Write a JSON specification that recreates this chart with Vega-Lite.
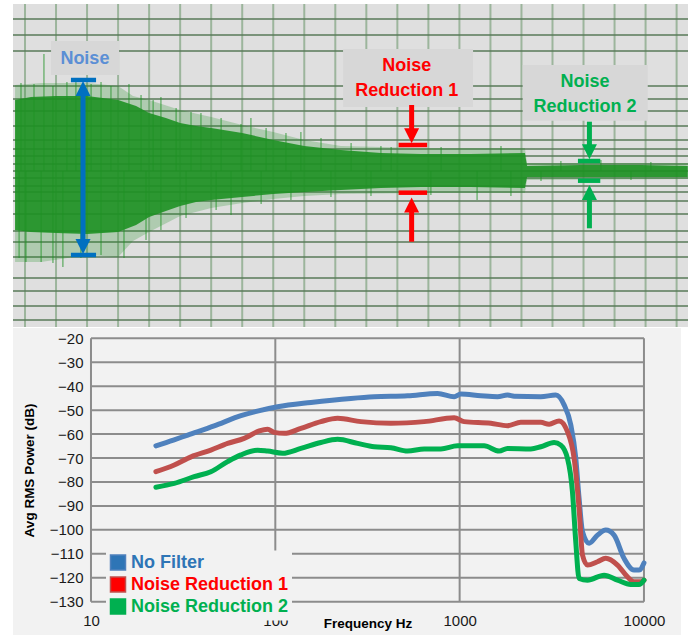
{
  "$schema": "https://vega.github.io/schema/vega-lite/v6.json",
  "background": "white",
  "padding": {"left": 12, "top": 3, "right": 0, "bottom": 0},
  "spacing": 0,
  "config": {
    "view": {"stroke": null},
    "font": "Liberation Sans",
    "axis": {"labelFont": "Liberation Sans", "titleFont": "Liberation Sans", "labelOverlap": false},
    "legend": {"labelFont": "Liberation Sans"}
  },
  "datasets": {
    "vgrid": [{"t":0},{"t":1},{"t":2},{"t":3},{"t":4},{"t":5},{"t":6},{"t":7},{"t":8},{"t":9},{"t":10},{"t":11},{"t":12},{"t":13},{"t":14},{"t":15},{"t":16},{"t":17},{"t":18},{"t":19},{"t":20},{"t":21}],
    "hgrid": [{"a":15.2},{"a":13.6},{"a":12.0},{"a":8.5},{"a":7.2},{"a":6.0},{"a":4.5},{"a":3.1},{"a":2.2},{"a":1.5},{"a":0.7},{"a":0},{"a":-0.7},{"a":-1.5},{"a":-2.1},{"a":-3.0},{"a":-4.3},{"a":-6.0},{"a":-7.1},{"a":-8.6},{"a":-10.7},{"a":-12.0},{"a":-13.5},{"a":-14.9}],
    "noiseOuter": [
      {"t":-0.32,"hi":8.6,"lo":-9.1},{"t":0.52,"hi":8.8,"lo":-9.1},{"t":2.0,"hi":8.8,"lo":-8.4},{"t":3.0,"hi":8.5,"lo":-8.6},
      {"t":3.48,"hi":7.5,"lo":-7.0},{"t":4.0,"hi":7.1,"lo":-6.1},{"t":5.0,"hi":6.1,"lo":-4.5},{"t":6.0,"hi":5.4,"lo":-3.7},
      {"t":7.0,"hi":4.6,"lo":-3.2},{"t":8.0,"hi":3.9,"lo":-2.8},{"t":9.0,"hi":3.1,"lo":-2.5},{"t":10.18,"hi":2.5,"lo":-2.3},
      {"t":12.76,"hi":2.3,"lo":-2.2},{"t":16.11,"hi":2.3,"lo":-2.2},{"t":16.18,"hi":0.8,"lo":-0.9},{"t":21.36,"hi":0.8,"lo":-0.8}
    ],
    "noiseCore": [
      {"t":-0.32,"hi":7.1,"lo":-5.9},{"t":0.19,"hi":7.4,"lo":-6.1},{"t":1.0,"hi":7.5,"lo":-6.2},{"t":2.0,"hi":7.5,"lo":-6.3},
      {"t":3.0,"hi":7.1,"lo":-6.1},{"t":3.58,"hi":6.5,"lo":-5.4},{"t":4.0,"hi":5.8,"lo":-4.6},{"t":4.54,"hi":5.3,"lo":-4.0},
      {"t":5.0,"hi":4.8,"lo":-3.5},{"t":5.51,"hi":4.5,"lo":-3.1},{"t":6.0,"hi":4.3,"lo":-2.9},{"t":7.0,"hi":3.8,"lo":-2.6},
      {"t":8.0,"hi":3.1,"lo":-2.3},{"t":9.0,"hi":2.5,"lo":-2.1},{"t":10.18,"hi":2.1,"lo":-1.9},{"t":11.47,"hi":1.8,"lo":-1.7},
      {"t":12.76,"hi":1.7,"lo":-1.6},{"t":14.37,"hi":1.7,"lo":-1.6},{"t":16.11,"hi":1.8,"lo":-1.7},{"t":16.18,"hi":0.5,"lo":-0.6},
      {"t":17.92,"hi":0.6,"lo":-0.6},{"t":19.85,"hi":0.6,"lo":-0.6},{"t":21.36,"hi":0.5,"lo":-0.6}
    ],
    "spikes": [
      {"t":0.03,"base":0,"tip":-9.1},{"t":0.61,"base":0,"tip":11.7},{"t":0.9,"base":0,"tip":-9.2},{"t":1.22,"base":0,"tip":-9.6},{"t":1.64,"base":0,"tip":9.1},
      {"t":2.45,"base":0,"tip":8.9},{"t":3.19,"base":0,"tip":-8.7},{"t":3.35,"base":0,"tip":8.7},{"t":4.38,"base":0,"tip":7.4},{"t":5.67,"base":0,"tip":5.8},
      {"t":6.64,"base":0,"tip":-4.4},{"t":7.28,"base":0,"tip":5.3},{"t":8.89,"base":0,"tip":3.9},{"t":11.8,"base":0,"tip":2.4},{"t":14.57,"base":0,"tip":-2.9},
      {"t":-0.13,"base":0,"tip":8.8},{"t":0.29,"base":0,"tip":8.7},{"t":0.9,"base":0,"tip":8.5},{"t":1.35,"base":0,"tip":8.9},{"t":2.13,"base":0,"tip":8.7},
      {"t":2.77,"base":0,"tip":8.5},{"t":3.74,"base":0,"tip":7.6},{"t":4.13,"base":0,"tip":7.1},{"t":4.87,"base":0,"tip":6.3},{"t":5.35,"base":0,"tip":5.9},
      {"t":6.32,"base":0,"tip":5.3},{"t":6.96,"base":0,"tip":4.7},{"t":7.77,"base":0,"tip":4.3},{"t":8.41,"base":0,"tip":3.8},{"t":9.54,"base":0,"tip":3.3},
      {"t":10.51,"base":0,"tip":2.8},{"t":11.47,"base":0,"tip":2.5},{"t":13.41,"base":0,"tip":2.4},{"t":15.34,"base":0,"tip":2.5},
      {"t":-0.19,"base":0,"tip":-8.7},{"t":0.52,"base":0,"tip":-9.1},{"t":1.8,"base":0,"tip":-8.7},{"t":2.45,"base":0,"tip":-8.4},{"t":3.9,"base":0,"tip":-6.9},
      {"t":4.38,"base":0,"tip":-5.9},{"t":5.19,"base":0,"tip":-4.7},{"t":6.16,"base":0,"tip":-3.9},{"t":7.61,"base":0,"tip":-3.3},{"t":8.57,"base":0,"tip":-2.9},
      {"t":9.86,"base":0,"tip":-2.6},{"t":11.15,"base":0,"tip":-2.5},{"t":13.08,"base":0,"tip":-2.4},{"t":15.66,"base":0,"tip":-2.5},
      {"t":17.27,"base":0,"tip":1.0},{"t":18.56,"base":0,"tip":1.1},{"t":20.17,"base":0,"tip":0.9},{"t":16.63,"base":0,"tip":-1.0},{"t":19.53,"base":0,"tip":-0.9}
    ],
    "boxes": [
      {"t":0.84,"t2":3.03,"a":13.0,"a2":9.6},
      {"t":10.25,"t2":14.44,"a":12.2,"a2":6.4},
      {"t":16.04,"t2":20.07,"a":10.6,"a2":5.03}
    ],
    "labels": [
      {"grp":"Noise","t":1.93,"a":11.2,"text":"Noise"},
      {"grp":"NR1","t":12.3,"a":10.53,"text":"Noise"},
      {"grp":"NR1","t":12.3,"a":8.0,"text":"Reduction 1"},
      {"grp":"NR2","t":18.05,"a":8.93,"text":"Noise"},
      {"grp":"NR2","t":18.05,"a":6.4,"text":"Reduction 2"}
    ],
    "shafts": [
      {"grp":"Noise","t":1.87,"a":8.25,"a2":-7.55},
      {"grp":"NR1","t":12.46,"a":6.6,"a2":3.53},
      {"grp":"NR1","t":12.46,"a":-7.07,"a2":-3.4},
      {"grp":"NR2","t":18.19,"a":4.93,"a2":1.93},
      {"grp":"NR2","t":18.19,"a":-5.73,"a2":-2.15}
    ],
    "bars": [
      {"grp":"Noise","t":1.48,"t2":2.29,"a":9.1},
      {"grp":"Noise","t":1.48,"t2":2.29,"a":-8.4},
      {"grp":"NR1","t":12.04,"t2":12.96,"a":2.6},
      {"grp":"NR1","t":12.04,"t2":12.96,"a":-2.17},
      {"grp":"NR2","t":17.82,"t2":18.54,"a":1.0},
      {"grp":"NR2","t":17.82,"t2":18.54,"a":-0.97}
    ],
    "heads": [
      {"grp":"Noise","t":1.87,"a":8.25,"dir":"up"},
      {"grp":"Noise","t":1.87,"a":-7.55,"dir":"down"},
      {"grp":"NR1","t":12.46,"a":3.53,"dir":"down"},
      {"grp":"NR1","t":12.46,"a":-3.4,"dir":"up"},
      {"grp":"NR2","t":18.19,"a":1.93,"dir":"down"},
      {"grp":"NR2","t":18.19,"a":-2.15,"dir":"up"}
    ],
    "spectrum": [
      {"s":"No Filter","f":22.5,"db":-64.9},{"s":"No Filter","f":28,"db":-62.5},{"s":"No Filter","f":33.5,"db":-60.4},{"s":"No Filter","f":46.6,"db":-56.6},
      {"s":"No Filter","f":65.1,"db":-52.3},{"s":"No Filter","f":80,"db":-50.4},{"s":"No Filter","f":102.9,"db":-48.6},{"s":"No Filter","f":156,"db":-46.8},
      {"s":"No Filter","f":257,"db":-45.1},{"s":"No Filter","f":344,"db":-44.4},{"s":"No Filter","f":522,"db":-44.0},{"s":"No Filter","f":759,"db":-43.0},
      {"s":"No Filter","f":934,"db":-44.4},{"s":"No Filter","f":1015,"db":-43.3},{"s":"No Filter","f":1303,"db":-44.0},{"s":"No Filter","f":1606,"db":-44.4},
      {"s":"No Filter","f":1818,"db":-43.7},{"s":"No Filter","f":1975,"db":-44.2},{"s":"No Filter","f":2754,"db":-44.4},{"s":"No Filter","f":3324,"db":-43.7},
      {"s":"No Filter","f":3688,"db":-47.8},{"s":"No Filter","f":4010,"db":-56.2},{"s":"No Filter","f":4266,"db":-70.1},{"s":"No Filter","f":4446,"db":-86.8},
      {"s":"No Filter","f":4640,"db":-100.8},{"s":"No Filter","f":5037,"db":-105.6},{"s":"No Filter","f":5595,"db":-102.2},{"s":"No Filter","f":6205,"db":-100.1},
      {"s":"No Filter","f":6884,"db":-102.2},{"s":"No Filter","f":7800,"db":-111.9},{"s":"No Filter","f":8836,"db":-116.8},{"s":"No Filter","f":9405,"db":-116.8},
      {"s":"No Filter","f":10000,"db":-113.8},
      {"s":"Noise Reduction 1","f":22.5,"db":-75.7},{"s":"Noise Reduction 1","f":28.3,"db":-72.9},{"s":"Noise Reduction 1","f":34.9,"db":-69.5},{"s":"Noise Reduction 1","f":44.7,"db":-66.7},
      {"s":"Noise Reduction 1","f":55.1,"db":-63.9},{"s":"Noise Reduction 1","f":67.8,"db":-61.8},{"s":"Noise Reduction 1","f":81.8,"db":-58.7},{"s":"Noise Reduction 1","f":90.8,"db":-58.0},
      {"s":"Noise Reduction 1","f":98.6,"db":-59.3},{"s":"Noise Reduction 1","f":111.8,"db":-59.7},{"s":"Noise Reduction 1","f":137.6,"db":-57.6},{"s":"Noise Reduction 1","f":176.7,"db":-54.8},
      {"s":"Noise Reduction 1","f":217.7,"db":-53.4},{"s":"Noise Reduction 1","f":291.2,"db":-54.8},{"s":"Noise Reduction 1","f":423.7,"db":-55.5},{"s":"Noise Reduction 1","f":642,"db":-54.8},
      {"s":"Noise Reduction 1","f":934,"db":-53.2},{"s":"Noise Reduction 1","f":1058,"db":-54.8},{"s":"Noise Reduction 1","f":1476,"db":-55.5},{"s":"Noise Reduction 1","f":1818,"db":-56.5},
      {"s":"Noise Reduction 1","f":2147,"db":-55.1},{"s":"Noise Reduction 1","f":2756,"db":-55.1},{"s":"Noise Reduction 1","f":3057,"db":-55.9},{"s":"Noise Reduction 1","f":3465,"db":-54.5},
      {"s":"Noise Reduction 1","f":3846,"db":-59.0},{"s":"Noise Reduction 1","f":4178,"db":-70.1},{"s":"Noise Reduction 1","f":4446,"db":-91.0},{"s":"Noise Reduction 1","f":4640,"db":-110.5},
      {"s":"Noise Reduction 1","f":4938,"db":-114.7},{"s":"Noise Reduction 1","f":5595,"db":-113.3},{"s":"Noise Reduction 1","f":6205,"db":-111.9},{"s":"Noise Reduction 1","f":7184,"db":-114.7},
      {"s":"Noise Reduction 1","f":8138,"db":-119.6},{"s":"Noise Reduction 1","f":8836,"db":-121.7},{"s":"Noise Reduction 1","f":9608,"db":-121.7},{"s":"Noise Reduction 1","f":10000,"db":-121.0},
      {"s":"Noise Reduction 2","f":22.5,"db":-82.2},{"s":"Noise Reduction 2","f":28.3,"db":-80.6},{"s":"Noise Reduction 2","f":36.3,"db":-77.8},{"s":"Noise Reduction 2","f":44.7,"db":-75.7},
      {"s":"Noise Reduction 2","f":55.1,"db":-71.5},{"s":"Noise Reduction 2","f":65.1,"db":-68.7},{"s":"Noise Reduction 2","f":80.2,"db":-66.7},{"s":"Noise Reduction 2","f":90.8,"db":-67.1},
      {"s":"Noise Reduction 2","f":109.5,"db":-68.0},{"s":"Noise Reduction 2","f":137.6,"db":-66.0},{"s":"Noise Reduction 2","f":176.7,"db":-63.5},{"s":"Noise Reduction 2","f":217.7,"db":-62.2},
      {"s":"Noise Reduction 2","f":279.5,"db":-63.9},{"s":"Noise Reduction 2","f":343.9,"db":-65.3},{"s":"Noise Reduction 2","f":423.7,"db":-65.7},{"s":"Noise Reduction 2","f":521.8,"db":-67.1},
      {"s":"Noise Reduction 2","f":642,"db":-66.2},{"s":"Noise Reduction 2","f":790.7,"db":-66.2},{"s":"Noise Reduction 2","f":974,"db":-64.9},{"s":"Noise Reduction 2","f":1358,"db":-64.9},
      {"s":"Noise Reduction 2","f":1638,"db":-67.1},{"s":"Noise Reduction 2","f":1818,"db":-66.0},{"s":"Noise Reduction 2","f":2433,"db":-66.2},{"s":"Noise Reduction 2","f":2756,"db":-65.3},
      {"s":"Noise Reduction 2","f":3254,"db":-63.5},{"s":"Noise Reduction 2","f":3538,"db":-64.6},{"s":"Noise Reduction 2","f":3846,"db":-70.1},{"s":"Noise Reduction 2","f":4093,"db":-84.1},
      {"s":"Noise Reduction 2","f":4266,"db":-105.0},{"s":"Noise Reduction 2","f":4446,"db":-120.3},{"s":"Noise Reduction 2","f":4938,"db":-121.0},{"s":"Noise Reduction 2","f":6078,"db":-118.9},
      {"s":"Noise Reduction 2","f":7184,"db":-121.0},{"s":"Noise Reduction 2","f":8477,"db":-122.8},{"s":"Noise Reduction 2","f":9405,"db":-122.8},{"s":"Noise Reduction 2","f":10000,"db":-121.0}
    ],
    "dbgrid": [
      {"db":-20,"f1":10,"f2":10000},{"db":-30,"f1":10,"f2":10000},{"db":-40,"f1":10,"f2":10000},{"db":-50,"f1":10,"f2":10000},
      {"db":-60,"f1":10,"f2":10000},{"db":-70,"f1":10,"f2":10000},{"db":-80,"f1":10,"f2":10000},{"db":-90,"f1":10,"f2":10000},
      {"db":-100,"f1":10,"f2":10000},{"db":-110,"f1":10,"f2":10000},{"db":-120,"f1":10,"f2":10000},{"db":-130,"f1":10,"f2":10000}
    ],
    "fgrid": [
      {"f":10,"d1":-20,"d2":-130},{"f":100,"d1":-20,"d2":-130},{"f":1000,"d1":-20,"d2":-130},{"f":10000,"d1":-20,"d2":-130}
    ]
  },
  "vconcat": [
    {
      "width": 675,
      "height": 323,
      "view": {"fill": "#dfdfdf", "stroke": null},
      "layer": [
        {
          "data": {"name": "vgrid"},
          "mark": {"type": "rule", "color": "#9cb59c", "strokeWidth": 2},
          "encoding": {
            "x": {"field": "t", "type": "quantitative", "scale": {"domain": [-0.387, 21.367], "nice": false, "zero": false}, "axis": null}
          }
        },
        {
          "data": {"name": "hgrid"},
          "mark": {"type": "rule", "color": "#587a58", "strokeWidth": 1.5},
          "encoding": {
            "y": {"field": "a", "type": "quantitative", "scale": {"domain": [-15.6, 16.7], "nice": false, "zero": false}, "axis": null}
          }
        },
        {
          "data": {"name": "noiseOuter"},
          "mark": {"type": "area", "color": "#1e9123", "opacity": 0.25},
          "encoding": {
            "x": {"field": "t", "type": "quantitative", "scale": {"domain": [-0.387, 21.367], "nice": false, "zero": false}, "axis": null},
            "y": {"field": "hi", "type": "quantitative", "scale": {"domain": [-15.6, 16.7], "nice": false, "zero": false}, "axis": null},
            "y2": {"field": "lo"}
          }
        },
        {
          "data": {"name": "spikes"},
          "mark": {"type": "rule", "color": "#1e9123", "opacity": 0.55, "strokeWidth": 1.5},
          "encoding": {
            "x": {"field": "t", "type": "quantitative", "scale": {"domain": [-0.387, 21.367], "nice": false, "zero": false}, "axis": null},
            "y": {"field": "base", "type": "quantitative", "scale": {"domain": [-15.6, 16.7], "nice": false, "zero": false}, "axis": null},
            "y2": {"field": "tip"}
          }
        },
        {
          "data": {"name": "noiseCore"},
          "mark": {"type": "area", "color": "#1e9123", "opacity": 0.9},
          "encoding": {
            "x": {"field": "t", "type": "quantitative", "scale": {"domain": [-0.387, 21.367], "nice": false, "zero": false}, "axis": null},
            "y": {"field": "hi", "type": "quantitative", "scale": {"domain": [-15.6, 16.7], "nice": false, "zero": false}, "axis": null},
            "y2": {"field": "lo"}
          }
        },
        {
          "data": {"name": "boxes"},
          "mark": {"type": "rect", "color": "#d7d7d7"},
          "encoding": {
            "x": {"field": "t", "type": "quantitative", "scale": {"domain": [-0.387, 21.367], "nice": false, "zero": false}, "axis": null},
            "x2": {"field": "t2"},
            "y": {"field": "a", "type": "quantitative", "scale": {"domain": [-15.6, 16.7], "nice": false, "zero": false}, "axis": null},
            "y2": {"field": "a2"}
          }
        },
        {
          "data": {"name": "labels"},
          "mark": {"type": "text", "font": "Liberation Sans", "fontWeight": "bold", "fontSize": 18, "align": "center", "baseline": "middle"},
          "encoding": {
            "x": {"field": "t", "type": "quantitative", "scale": {"domain": [-0.387, 21.367], "nice": false, "zero": false}, "axis": null},
            "y": {"field": "a", "type": "quantitative", "scale": {"domain": [-15.6, 16.7], "nice": false, "zero": false}, "axis": null},
            "text": {"field": "text"},
            "fill": {"field": "grp", "type": "nominal", "scale": {"domain": ["Noise", "NR1", "NR2"], "range": ["#5b8fd5", "#ff0000", "#00b050"]}, "legend": null}
          }
        },
        {
          "data": {"name": "shafts"},
          "mark": {"type": "rule", "strokeWidth": 5},
          "encoding": {
            "x": {"field": "t", "type": "quantitative", "scale": {"domain": [-0.387, 21.367], "nice": false, "zero": false}, "axis": null},
            "y": {"field": "a", "type": "quantitative", "scale": {"domain": [-15.6, 16.7], "nice": false, "zero": false}, "axis": null},
            "y2": {"field": "a2"},
            "color": {"field": "grp", "type": "nominal", "scale": {"domain": ["Noise", "NR1", "NR2"], "range": ["#0070c0", "#ff0000", "#00b050"]}, "legend": null}
          }
        },
        {
          "data": {"name": "bars"},
          "mark": {"type": "rule", "strokeWidth": 4.5},
          "encoding": {
            "x": {"field": "t", "type": "quantitative", "scale": {"domain": [-0.387, 21.367], "nice": false, "zero": false}, "axis": null},
            "x2": {"field": "t2"},
            "y": {"field": "a", "type": "quantitative", "scale": {"domain": [-15.6, 16.7], "nice": false, "zero": false}, "axis": null},
            "color": {"field": "grp", "type": "nominal", "scale": {"domain": ["Noise", "NR1", "NR2"], "range": ["#0070c0", "#ff0000", "#00b050"]}, "legend": null}
          }
        },
        {
          "data": {"name": "heads"},
          "mark": {"type": "point", "filled": true, "opacity": 1, "size": 225, "strokeWidth": 0},
          "encoding": {
            "x": {"field": "t", "type": "quantitative", "scale": {"domain": [-0.387, 21.367], "nice": false, "zero": false}, "axis": null},
            "y": {"field": "a", "type": "quantitative", "scale": {"domain": [-15.6, 16.7], "nice": false, "zero": false}, "axis": null},
            "shape": {"field": "dir", "type": "nominal", "scale": {"domain": ["up", "down"], "range": ["M0,-1L-1,1L1,1Z", "M0,1L-1,-1L1,-1Z"]}, "legend": null},
            "color": {"field": "grp", "type": "nominal", "scale": {"domain": ["Noise", "NR1", "NR2"], "range": ["#0070c0", "#ff0000", "#00b050"]}, "legend": null}
          }
        }
      ]
    },
    {
      "width": 668,
      "height": 307,
      "view": {"fill": "#f2f2f2", "stroke": null},
      "layer": [
        {
          "data": {"name": "dbgrid"},
          "mark": {"type": "rule", "color": "#8c8c8c", "strokeWidth": 2},
          "encoding": {
            "y": {"field": "db", "type": "quantitative", "scale": {"domain": [-143.9, -15.7], "nice": false, "zero": false}, "title": "Avg RMS Power (dB)",
              "axis": {"values": [-20, -30, -40, -50, -60, -70, -80, -90, -100, -110, -120, -130], "tickCount": 20, "grid": false, "ticks": false, "domain": false, "offset": -78, "labelFontSize": 15, "labelColor": "#1a1a1a", "labelPadding": 8, "labelOverlap": false, "titleFontSize": 13.5, "titleFontWeight": "bold", "titleColor": "#000000", "titlePadding": 13, "titleY": 142, "zindex": 1}},
            "x": {"field": "f1", "type": "quantitative", "scale": {"type": "log", "domain": [3.775, 15882], "nice": false}, "title": "Frequency Hz",
              "axis": {"values": [10, 100, 1000, 10000], "tickCount": 20, "format": "d", "grid": false, "ticks": false, "domain": false, "offset": -33.3, "labelFontSize": 15, "labelColor": "#1a1a1a", "labelPadding": 12, "labelFlush": false, "labelOverlap": false, "titleFontSize": 13.5, "titleFontWeight": "bold", "titleColor": "#000000", "titleX": 354.5, "titleY": 22, "titleBaseline": "middle", "zindex": 1}},
            "x2": {"field": "f2"}
          }
        },
        {
          "data": {"name": "fgrid"},
          "mark": {"type": "rule", "color": "#8c8c8c", "strokeWidth": 2},
          "encoding": {
            "x": {"field": "f", "type": "quantitative", "scale": {"type": "log", "domain": [3.775, 15882], "nice": false}, "title": "Frequency Hz"},
            "y": {"field": "d1", "type": "quantitative", "scale": {"domain": [-143.9, -15.7], "nice": false, "zero": false}, "title": "Avg RMS Power (dB)"},
            "y2": {"field": "d2"}
          }
        },
        {
          "data": {"name": "spectrum"},
          "mark": {"type": "line", "strokeWidth": 5, "interpolate": "monotone", "strokeCap": "round", "strokeJoin": "round"},
          "encoding": {
            "x": {"field": "f", "type": "quantitative", "scale": {"type": "log", "domain": [3.775, 15882], "nice": false}, "title": "Frequency Hz"},
            "y": {"field": "db", "type": "quantitative", "scale": {"domain": [-143.9, -15.7], "nice": false, "zero": false}, "title": "Avg RMS Power (dB)"},
            "stroke": {
              "field": "s", "type": "nominal",
              "scale": {"domain": ["No Filter", "Noise Reduction 1", "Noise Reduction 2"], "range": ["#4f81bd", "#c0504d", "#00b050"]},
              "legend": {
                "title": null, "orient": "none", "legendX": 93, "legendY": 546.5, "fillColor": "#f2f2f2", "padding": 3, "rowPadding": 0,
                "labelFontSize": 18, "labelFontWeight": "bold", "labelOffset": 4, "symbolType": "square", "symbolSize": 225,
                "encode": {
                  "symbols": {"update": {
                    "fill": {"signal": "datum.value === 'No Filter' ? '#2e75b6' : (datum.value === 'Noise Reduction 1' ? '#ff0000' : '#00b050')"},
                    "stroke": {"value": "transparent"},
                    "opacity": {"value": 1}
                  }},
                  "labels": {"update": {
                    "fill": {"signal": "datum.label === 'No Filter' ? '#2e75b6' : (datum.label === 'Noise Reduction 1' ? '#ff0000' : '#00b050')"}
                  }}
                }
              }
            }
          }
        }
      ]
    }
  ]
}
